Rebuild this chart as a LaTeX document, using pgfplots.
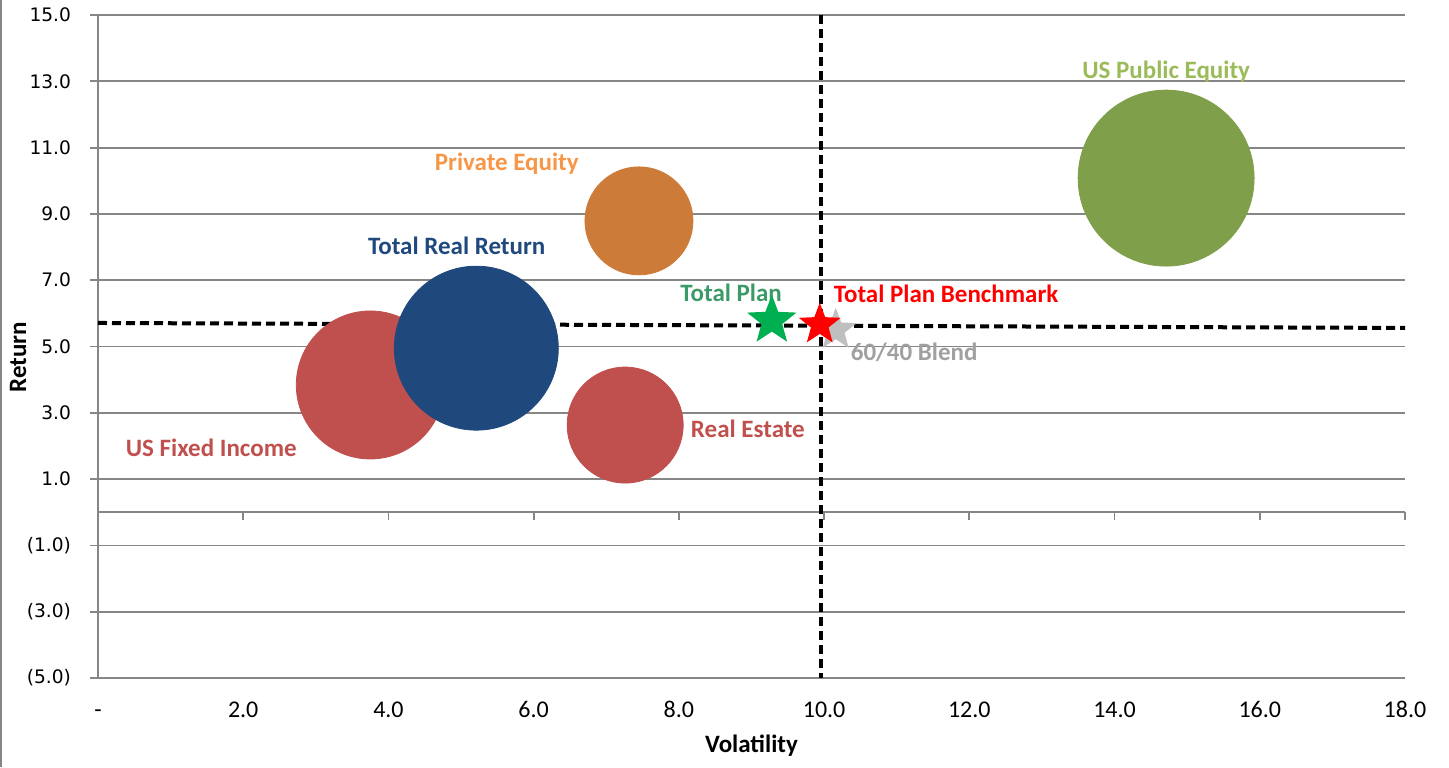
\documentclass[border=0pt]{standalone}
\usepackage{fontspec}
\setmainfont{Carlito}
\newfontfamily\verd{DejaVu Sans}
\usepackage{pgfplots}
\pgfplotsset{compat=1.18}
\definecolor{gridgray}{RGB}{134,134,134}
\definecolor{peqbub}{RGB}{127,159,74}
\definecolor{peqlab}{RGB}{155,187,89}
\definecolor{pvtbub}{RGB}{204,123,56}
\definecolor{pvtlab}{RGB}{247,150,70}
\definecolor{trrblue}{RGB}{31,73,125}
\definecolor{fired}{RGB}{192,80,77}
\definecolor{tplab}{RGB}{60,153,104}
\definecolor{tpstar}{RGB}{0,176,80}
\definecolor{blendstar}{RGB}{191,191,191}
\definecolor{blendlab}{RGB}{160,160,160}
\pgfdeclareplotmark{fstar}{%
  \pgfpathmoveto{\pgfpointpolar{90}{\pgfplotmarksize}}%
  \pgfpathlineto{\pgfpointpolar{126}{0.42\pgfplotmarksize}}%
  \pgfpathlineto{\pgfpointpolar{162}{\pgfplotmarksize}}%
  \pgfpathlineto{\pgfpointpolar{198}{0.42\pgfplotmarksize}}%
  \pgfpathlineto{\pgfpointpolar{234}{\pgfplotmarksize}}%
  \pgfpathlineto{\pgfpointpolar{270}{0.42\pgfplotmarksize}}%
  \pgfpathlineto{\pgfpointpolar{306}{\pgfplotmarksize}}%
  \pgfpathlineto{\pgfpointpolar{342}{0.42\pgfplotmarksize}}%
  \pgfpathlineto{\pgfpointpolar{18}{\pgfplotmarksize}}%
  \pgfpathlineto{\pgfpointpolar{54}{0.42\pgfplotmarksize}}%
  \pgfpathclose
  \pgfusepathqfill
}
\begin{document}
\begin{tikzpicture}
\useasboundingbox (-49pt,-44.5pt) rectangle (675.5pt,339pt);
\draw[gridgray, line width=1pt] (-48.5pt,-44.5pt) -- (-48.5pt,339pt);
\begin{axis}[
  at={(0,0)}, anchor=south west,
  scale only axis, width=653.5pt, height=331.5pt,
  xmin=0, xmax=18, ymin=-5, ymax=15,
  axis lines*=left,
  axis line style={gridgray, line width=0.9pt},
  xtick={0,2,...,18},
  xticklabels={-,2.0,4.0,6.0,8.0,10.0,12.0,14.0,16.0,18.0},
  ytick={-5,-3,...,15},
  yticklabels={(5.0),(3.0),(1.0),1.0,3.0,5.0,7.0,9.0,11.0,13.0,15.0},
  xtick style={draw=none},
  ytick style={gridgray, line width=0.9pt},
  tick align=outside,
  major tick length=4pt,
  ymajorgrids,
  major grid style={gridgray, line width=0.9pt},
  xticklabel style={font=\fontsize{12}{14}\selectfont, yshift=-4pt, text height=8pt},
  yticklabel style={font=\verd\fontsize{9.3}{11}\selectfont, xshift=-6pt},
  xlabel={\textbf{Volatility}},
  ylabel={\textbf{Return}},
  xlabel style={font=\fontsize{12.5}{14}\selectfont, at={([yshift=-34pt]axis description cs:0.5,0)}, anchor=center},
  ylabel style={font=\fontsize{12.5}{14}\selectfont, at={([xshift=-40pt]axis description cs:0,0.484)}, anchor=center},
  clip=false,
]
% x axis line at zero with ticks
\addplot[gridgray, line width=0.9pt] coordinates {(0,0) (18,0)};
\pgfplotsinvokeforeach{0,2,...,18}{\draw[gridgray, line width=0.9pt] (axis cs:#1,0) -- ([yshift=-4pt]axis cs:#1,0);}
% bubbles
\addplot[only marks, mark=*, mark size=44pt, color=peqbub] coordinates {(14.71,10.08)};
\addplot[only marks, mark=*, mark size=27pt, color=pvtbub] coordinates {(7.45,8.79)};
\addplot[only marks, mark=*, mark size=37pt, color=fired] coordinates {(3.75,3.84)};
\addplot[only marks, mark=*, mark size=41pt, color=trrblue] coordinates {(5.21,4.95)};
\addplot[only marks, mark=*, mark size=29pt, color=fired] coordinates {(7.26,2.63)};
% 60/40 blend star
\addplot[only marks, mark=fstar, mark size=11pt, color=blendstar] coordinates {(10.16,5.50)};
% dashed lines
\addplot[black, line width=2pt, dash pattern=on 4.5pt off 2.5pt] coordinates {(0,5.71) (18,5.56)};
\addplot[black, line width=2pt, dash pattern=on 4.5pt off 2.5pt] coordinates {(9.96,15) (9.96,-5)};
% stars
\addplot[only marks, mark=fstar, mark size=11pt, color=red] coordinates {(9.94,5.66)};
\addplot[only marks, mark=fstar, mark size=13pt, color=tpstar] coordinates {(9.28,5.78)};
% labels
\node[font=\bfseries\fontsize{12.5}{14}\selectfont, text=peqlab] at (axis cs:14.71,13.28) {US Public Equity};
\node[font=\bfseries\fontsize{12.5}{14}\selectfont, text=pvtlab] at (axis cs:5.63,10.51) {Private Equity};
\node[font=\bfseries\fontsize{12.5}{14}\selectfont, text=trrblue] at (axis cs:4.94,8.03) {Total Real Return};
\node[font=\bfseries\fontsize{12.5}{14}\selectfont, text=fired] at (axis cs:1.56,1.94) {US Fixed Income};
\node[font=\bfseries\fontsize{12.5}{14}\selectfont, text=fired] at (axis cs:8.95,2.51) {Real Estate};
\node[font=\bfseries\fontsize{12.5}{14}\selectfont, text=tplab] at (axis cs:8.72,6.61) {Total Plan};
\node[font=\bfseries\fontsize{12.5}{14}\selectfont, text=red] at (axis cs:11.68,6.58) {Total Plan Benchmark};
\node[font=\bfseries\fontsize{12.5}{14}\selectfont, text=blendlab] at (axis cs:11.24,4.83) {60/40 Blend};
\end{axis}
\end{tikzpicture}
\end{document}
